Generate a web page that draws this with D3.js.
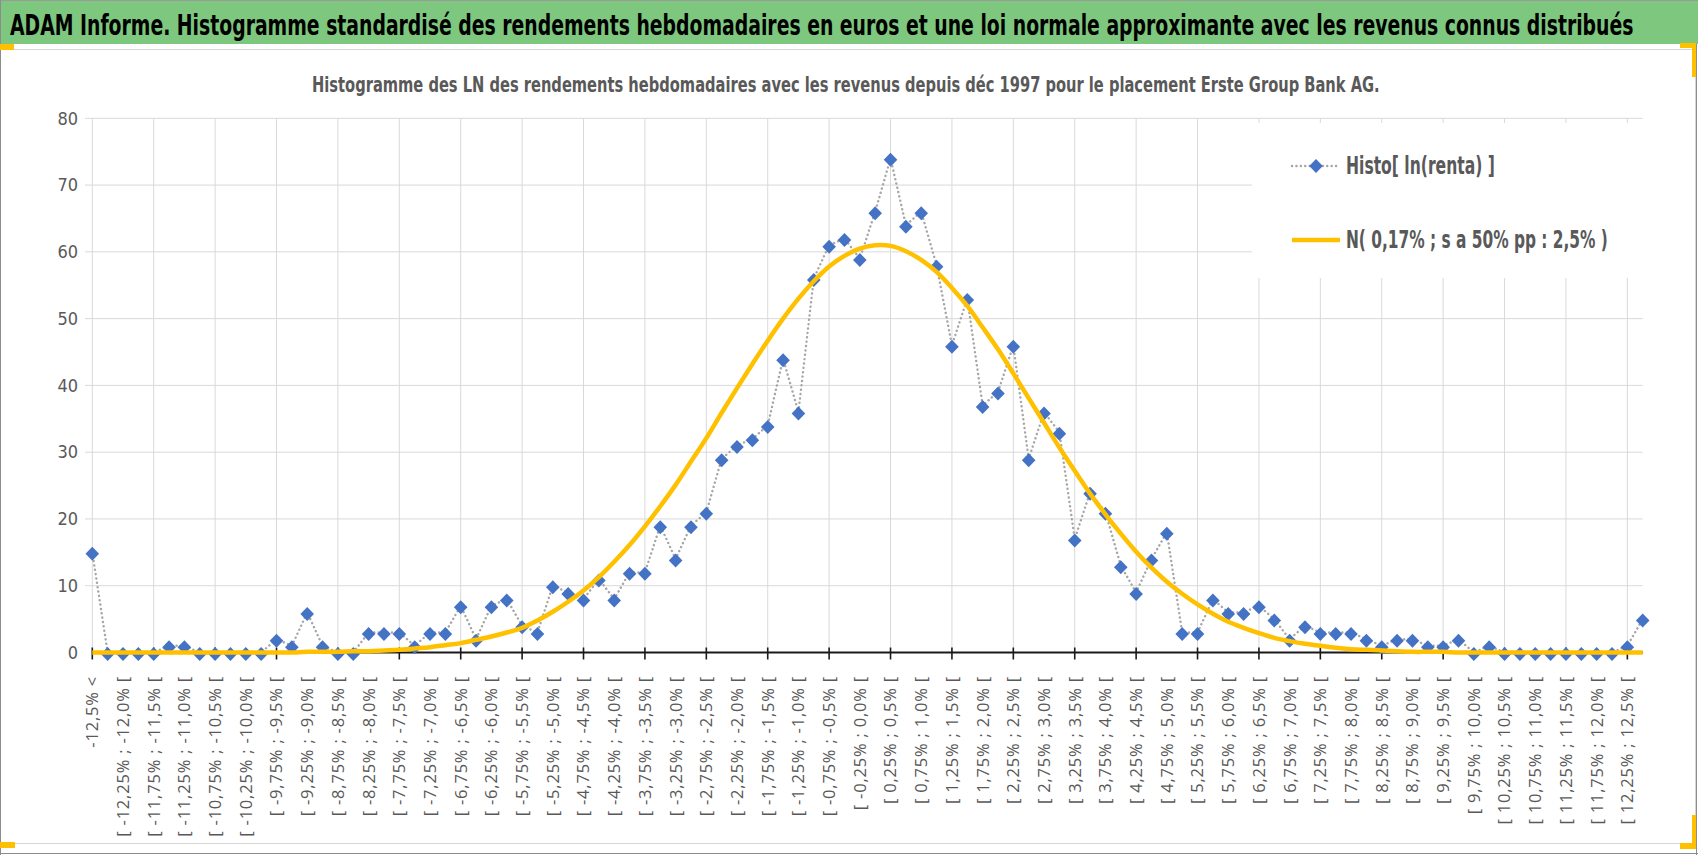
<!DOCTYPE html>
<html>
<head>
<meta charset="utf-8">
<script src="https://cdn.jsdelivr.net/npm/d3@7"></script>
<style>
  body { margin: 0; background: #fff; }
  svg { display: block; }
</style>
</head>
<body>
<script>
// Data
const categories = [
  "-12,5% <", "[ -12,5% ; -12,25% [", "[ -12,25% ; -12,0% [", "[ -12,0% ; -11,75% [",
  "[ -11,75% ; -11,5% [", "[ -11,5% ; -11,25% [", "[ -11,25% ; -11,0% [", "[ -11,0% ; -10,75% [",
  "[ -10,75% ; -10,5% [", "[ -10,5% ; -10,25% [", "[ -10,25% ; -10,0% [", "[ -10,0% ; -9,75% [",
  "[ -9,75% ; -9,5% [", "[ -9,5% ; -9,25% [", "[ -9,25% ; -9,0% [", "[ -9,0% ; -8,75% [",
  "[ -8,75% ; -8,5% [", "[ -8,5% ; -8,25% [", "[ -8,25% ; -8,0% [", "[ -8,0% ; -7,75% [",
  "[ -7,75% ; -7,5% [", "[ -7,5% ; -7,25% [", "[ -7,25% ; -7,0% [", "[ -7,0% ; -6,75% [",
  "[ -6,75% ; -6,5% [", "[ -6,5% ; -6,25% [", "[ -6,25% ; -6,0% [", "[ -6,0% ; -5,75% [",
  "[ -5,75% ; -5,5% [", "[ -5,5% ; -5,25% [", "[ -5,25% ; -5,0% [", "[ -5,0% ; -4,75% [",
  "[ -4,75% ; -4,5% [", "[ -4,5% ; -4,25% [", "[ -4,25% ; -4,0% [", "[ -4,0% ; -3,75% [",
  "[ -3,75% ; -3,5% [", "[ -3,5% ; -3,25% [", "[ -3,25% ; -3,0% [", "[ -3,0% ; -2,75% [",
  "[ -2,75% ; -2,5% [", "[ -2,5% ; -2,25% [", "[ -2,25% ; -2,0% [", "[ -2,0% ; -1,75% [",
  "[ -1,75% ; -1,5% [", "[ -1,5% ; -1,25% [", "[ -1,25% ; -1,0% [", "[ -1,0% ; -0,75% [",
  "[ -0,75% ; -0,5% [", "[ -0,5% ; -0,25% [", "[ -0,25% ; 0,0% [", "[ 0,0% ; 0,25% [",
  "[ 0,25% ; 0,5% [", "[ 0,5% ; 0,75% [", "[ 0,75% ; 1,0% [", "[ 1,0% ; 1,25% [",
  "[ 1,25% ; 1,5% [", "[ 1,5% ; 1,75% [", "[ 1,75% ; 2,0% [", "[ 2,0% ; 2,25% [",
  "[ 2,25% ; 2,5% [", "[ 2,5% ; 2,75% [", "[ 2,75% ; 3,0% [", "[ 3,0% ; 3,25% [",
  "[ 3,25% ; 3,5% [", "[ 3,5% ; 3,75% [", "[ 3,75% ; 4,0% [", "[ 4,0% ; 4,25% [",
  "[ 4,25% ; 4,5% [", "[ 4,5% ; 4,75% [", "[ 4,75% ; 5,0% [", "[ 5,0% ; 5,25% [",
  "[ 5,25% ; 5,5% [", "[ 5,5% ; 5,75% [", "[ 5,75% ; 6,0% [", "[ 6,0% ; 6,25% [",
  "[ 6,25% ; 6,5% [", "[ 6,5% ; 6,75% [", "[ 6,75% ; 7,0% [", "[ 7,0% ; 7,25% [",
  "[ 7,25% ; 7,5% [", "[ 7,5% ; 7,75% [", "[ 7,75% ; 8,0% [", "[ 8,0% ; 8,25% [",
  "[ 8,25% ; 8,5% [", "[ 8,5% ; 8,75% [", "[ 8,75% ; 9,0% [", "[ 9,0% ; 9,25% [",
  "[ 9,25% ; 9,5% [", "[ 9,5% ; 9,75% [", "[ 9,75% ; 10,0% [", "[ 10,0% ; 10,25% [",
  "[ 10,25% ; 10,5% [", "[ 10,5% ; 10,75% [", "[ 10,75% ; 11,0% [", "[ 11,0% ; 11,25% [",
  "[ 11,25% ; 11,5% [", "[ 11,5% ; 11,75% [", "[ 11,75% ; 12,0% [", "[ 12,0% ; 12,25% [",
  "[ 12,25% ; 12,5% [", "12,5% >"
];

// Histo[ ln(renta) ] : number of weeks per bin
const histo = [
  15, 0, 0, 0, 0, 1, 1, 0, 0, 0, 0, 0,
  2, 1, 6, 1, 0, 0, 3, 3, 3, 1, 3, 3,
  7, 2, 7, 8, 4, 3, 10, 9, 8, 11, 8, 12,
  12, 19, 14, 19, 21, 29, 31, 32, 34, 44, 36, 56,
  61, 62, 59, 66, 74, 64, 66, 58, 46, 53, 37, 39,
  46, 29, 36, 33, 17, 24, 21, 13, 9, 14, 18, 3,
  3, 8, 6, 6, 7, 5, 2, 4, 3, 3, 3, 2,
  1, 2, 2, 1, 1, 2, 0, 1, 0, 0, 0, 0,
  0, 0, 0, 0, 1, 5
];

// N( 0,17% ; 2,5% ) approximating curve, read per bin
const normale = [
  0, 0, 0, 0, 0, 0, 0, 0, 0, 0,
  0, 0, 0, 0, 0.1, 0.1, 0.1, 0.2, 0.2, 0.3,
  0.4, 0.6, 0.8, 1.1, 1.4, 1.9, 2.4, 3.0, 3.7, 4.8,
  6.1, 7.6, 9.3, 11.3, 13.6, 16.1, 18.9, 21.9, 25.1, 28.6,
  32.1, 35.9, 39.6, 43.2, 46.7, 50.0, 53.0, 55.6, 57.8, 59.4,
  60.5, 61.0, 60.9, 60.1, 58.8, 57.0, 54.6, 51.9, 48.7, 45.4,
  41.8, 38.1, 34.4, 30.7, 27.2, 23.8, 20.7, 17.8, 15.1, 12.7,
  10.6, 8.8, 7.2, 5.8, 4.6, 3.7, 2.9, 2.2, 1.7, 1.3,
  1.0, 0.7, 0.5, 0.4, 0.3, 0.2, 0.1, 0.1, 0.1, 0,
  0, 0, 0, 0, 0, 0, 0, 0, 0, 0,
  0, 0
];

const yTicks = [0, 10, 20, 30, 40, 50, 60, 70, 80];

const titre = "ADAM Informe. Histogramme standardisé des rendements hebdomadaires en euros et une loi normale approximante avec les revenus connus distribués";
const sousTitre = "Histogramme des LN des rendements hebdomadaires avec les revenus depuis déc 1997 pour le placement Erste Group Bank AG.";
const legendeHisto = "Histo[ ln(renta) ]";
const legendeNormale = "N( 0,17% ; s a 50% pp : 2,5% )";

const W = 1698, H = 855;
const narrow = "'Liberation Sans Narrow','DejaVu Sans Condensed','Open Sans',sans-serif";
const grey = "#595959";
const orange = "#FFC000";
const blue = "#4472C4";

const svg = d3.select("body").append("svg")
    .attr("width", W)
    .attr("height", H);

svg.append("rect").attr("width", W).attr("height", H).attr("fill", "#fff");

// squeeze a text horizontally to a target width (keeps its real box inside the page)
function fitWidth(sel, x0, target) {
  const w = sel.node().getComputedTextLength();
  const k = target / w;
  sel.attr("x", 0).attr("transform", `translate(${x0},${sel.attr("y")}) scale(${k},1)`).attr("y", 0);
}

// green title band
svg.append("rect").attr("x", 0).attr("y", 0).attr("width", W).attr("height", 44).attr("fill", "#7ec77e");
svg.append("line").attr("x1", 0).attr("x2", W).attr("y1", 0.5).attr("y2", 0.5).attr("stroke", "#9a9a9a");
const t = svg.append("text")
    .text(titre)
    .attr("y", 35)
    .attr("font-family", narrow).attr("font-weight", "bold").attr("font-size", 29)
    .attr("fill", "#000");
fitWidth(t, 10, 1625);

// chart frame
svg.append("rect").attr("x", 0.5).attr("y", 49.5).attr("width", 1695).attr("height", 794)
    .attr("fill", "none").attr("stroke", "#d6d6d6");
svg.append("line").attr("x1", 0.5).attr("x2", 0.5).attr("y1", 0).attr("y2", H).attr("stroke", "#8c8c8c");
svg.append("line").attr("x1", 1696.5).attr("x2", 1696.5).attr("y1", 44).attr("y2", H).attr("stroke", "#8c8c8c");
svg.append("line").attr("x1", 0).attr("x2", W).attr("y1", 853.5).attr("y2", 853.5).attr("stroke", "#8c8c8c");

// subtitle
const st = svg.append("text")
    .text(sousTitre)
    .attr("y", 92)
    .attr("font-family", narrow).attr("font-weight", "bold").attr("font-size", 21)
    .attr("fill", grey);
fitWidth(st, 312, 1068);

// scales
const x = d3.scalePoint().domain(categories).range([92.3, 1642.7]).padding(0);
const y = d3.scaleLinear().domain([0, 80]).range([652.5, 118.3]);

// horizontal gridlines
svg.append("g").selectAll("line")
    .data(yTicks.filter(d => d > 0))
    .join("line")
    .attr("x1", 85).attr("x2", x(categories[categories.length - 1]))
    .attr("y1", d => y(d)).attr("y2", d => y(d))
    .attr("stroke", "#d9d9d9").attr("stroke-width", 1);

// vertical gridlines every 4 bins
const gridCats = categories.filter((c, i) => i % 4 === 0);
svg.append("g").selectAll("line")
    .data(gridCats)
    .join("line")
    .attr("x1", d => x(d)).attr("x2", d => x(d))
    .attr("y1", y(80)).attr("y2", y(0))
    .attr("stroke", "#d9d9d9").attr("stroke-width", 1);

// y labels
svg.append("g").selectAll("text")
    .data(yTicks)
    .join("text")
    .text(d => d)
    .attr("x", 78).attr("y", d => y(d)).attr("dy", "0.35em")
    .attr("text-anchor", "end")
    .attr("font-family", narrow).attr("font-size", 18)
    .attr("fill", grey);

// category axis
svg.append("line")
    .attr("x1", x(categories[0])).attr("x2", x(categories[categories.length - 1]))
    .attr("y1", y(0)).attr("y2", y(0))
    .attr("stroke", "#1a1a1a").attr("stroke-width", 1.8);
svg.append("g").selectAll("line")
    .data(gridCats)
    .join("line")
    .attr("x1", d => x(d)).attr("x2", d => x(d))
    .attr("y1", y(0) - 5).attr("y2", y(0) + 7)
    .attr("stroke", "#1a1a1a").attr("stroke-width", 1.6);

const labelSize = 16.5;
svg.append("g").selectAll("text")
    .data(categories.filter((c, i) => i % 2 === 0))
    .join("text")
    .text(d => d)
    .attr("transform", d => `translate(${x(d) + labelSize * 0.36},676) rotate(-90)`)
    .attr("text-anchor", "end")
    .attr("font-family", "'Open Sans',sans-serif").attr("font-size", labelSize)
    .attr("letter-spacing", 0.8)
    .attr("fill", grey);

// legend background hides the gridlines
svg.append("rect").attr("x", 1252).attr("y", 123).attr("width", 398).attr("height", 155).attr("fill", "#fff");

// histogram series
const line = d3.line().x((d, i) => x(categories[i])).y(d => y(d));
svg.append("path")
    .attr("d", line(histo))
    .attr("fill", "none")
    .attr("stroke", "#a6a6a6").attr("stroke-width", 2.4)
    .attr("stroke-dasharray", "0.1 4.3").attr("stroke-linecap", "round");

const diamond = "M0,-7 L6.8,0 L0,7 L-6.8,0 Z";
svg.append("g").selectAll("path")
    .data(histo)
    .join("path")
    .attr("d", diamond)
    .attr("transform", (d, i) => `translate(${x(categories[i])},${y(d) + 1.5})`)
    .attr("fill", blue);

// normal curve
const smooth = d3.line().x((d, i) => x(categories[i])).y(d => y(d)).curve(d3.curveCatmullRom);
svg.append("path")
    .attr("d", smooth(normale))
    .attr("fill", "none")
    .attr("stroke", orange).attr("stroke-width", 4.5)
    .attr("stroke-linejoin", "round");

// legend
const lg = svg.append("g");
lg.append("line").attr("x1", 1292).attr("x2", 1338).attr("y1", 166).attr("y2", 166)
    .attr("stroke", "#a6a6a6").attr("stroke-width", 2.4)
    .attr("stroke-dasharray", "0.1 4.3").attr("stroke-linecap", "round");
lg.append("path").attr("d", diamond).attr("transform", "translate(1316,166)").attr("fill", blue);
const l1 = lg.append("text").text(legendeHisto)
    .attr("y", 174)
    .attr("font-family", narrow).attr("font-weight", "bold").attr("font-size", 24)
    .attr("fill", grey);
fitWidth(l1, 1346, 149);
lg.append("line").attr("x1", 1292).attr("x2", 1340).attr("y1", 240).attr("y2", 240)
    .attr("stroke", orange).attr("stroke-width", 4.5);
const l2 = lg.append("text").text(legendeNormale)
    .attr("y", 248)
    .attr("font-family", narrow).attr("font-weight", "bold").attr("font-size", 24)
    .attr("fill", grey);
fitWidth(l2, 1346, 262);

// Excel selection handles
const handles = [
  [0, 44, 14, 6], [1680, 43, 16, 5], [1692, 43, 4, 34],
  [0, 842, 15, 6], [1680, 843, 16, 6], [1692, 815, 4, 34]
];
svg.append("g").selectAll("rect")
    .data(handles)
    .join("rect")
    .attr("x", d => d[0]).attr("y", d => d[1])
    .attr("width", d => d[2]).attr("height", d => d[3])
    .attr("fill", orange);
</script>
</body>
</html>
